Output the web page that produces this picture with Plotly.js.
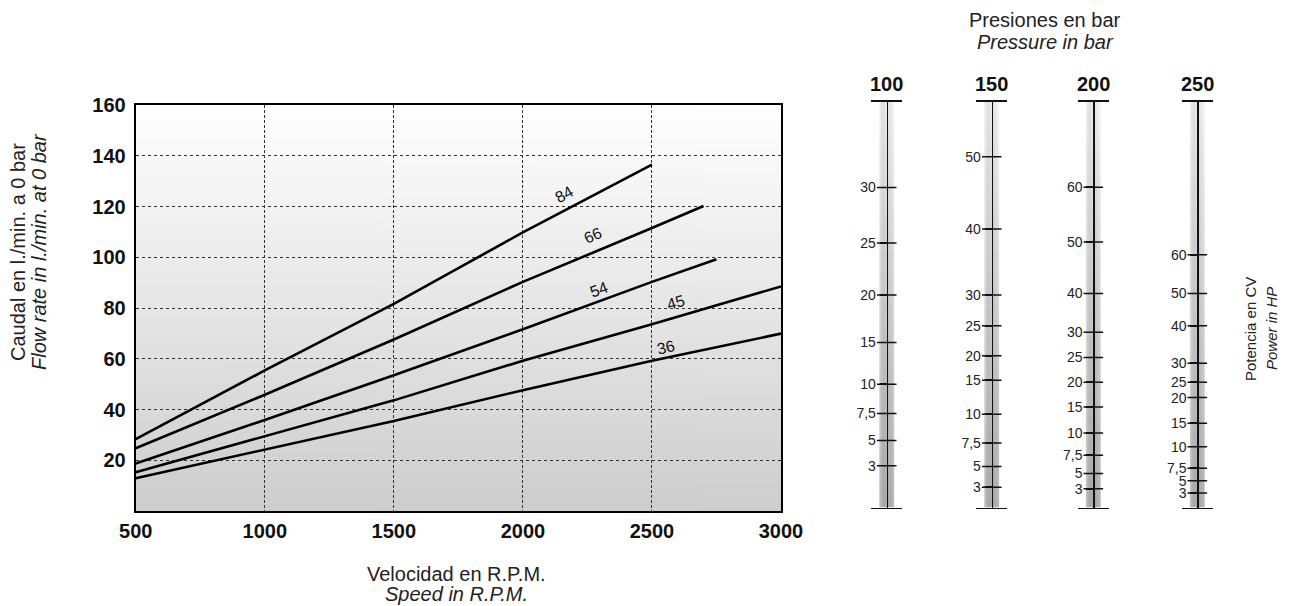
<!DOCTYPE html>
<html><head><meta charset="utf-8">
<script src="https://cdn.plot.ly/plotly-3.0.1.min.js"></script>
<style>html,body{margin:0;padding:0;background:#fff}#chart{width:1294px;height:606px}</style>
</head><body><div id="chart"></div>
<script>
// ---- main chart data ----
const speedTicks = [500, 1000, 1500, 2000, 2500, 3000];
const flowTicks = [20, 40, 60, 80, 100, 120, 140, 160];
const rpm84 = [500, 1000, 1500, 2000, 2500];
const flow84 = [28.3, 55.4, 81.6, 109.8, 136.5];
const rpm66 = [500, 1000, 1500, 2000, 2500, 2700];
const flow66 = [24.7, 45.8, 67.6, 90.3, 111.5, 120.2];
const rpm54 = [500, 1000, 1500, 2000, 2500, 2750];
const flow54 = [18.7, 35.9, 53.5, 71.6, 90.3, 99.2];
const rpm45 = [500, 1000, 1500, 2000, 2500, 3000];
const flow45 = [15.3, 29.6, 43.6, 59.2, 73.6, 88.5];
const rpm36 = [500, 1000, 1500, 2000, 2500, 3000];
const flow36 = [12.9, 24.2, 35.5, 47.6, 59.2, 69.9];
const curveNames = ['84', '66', '54', '45', '36'];
const labelRpm = [2159, 2270, 2296, 2593, 2554];
const labelFlow = [124.9, 108.5, 87.3, 82.0, 64.4];

// ---- nomogram data (power in CV/HP at each pressure; scale position 0=bottom,1=top) ----
const pressures = ['100', '150', '200', '250'];
const hp100 = ['30', '25', '20', '15', '10', '7,5', '5', '3'];
const pos100 = [0.789, 0.652, 0.524, 0.407, 0.304, 0.232, 0.165, 0.103];
const hp150 = ['50', '40', '30', '25', '20', '15', '10', '7,5', '5', '3'];
const pos150 = [0.865, 0.687, 0.524, 0.448, 0.374, 0.314, 0.230, 0.159, 0.101, 0.050];
const hp200 = ['60', '50', '40', '30', '25', '20', '15', '10', '7,5', '5', '3'];
const pos200 = [0.790, 0.655, 0.528, 0.432, 0.370, 0.309, 0.248, 0.184, 0.129, 0.084, 0.046];
const hp250 = ['60', '50', '40', '30', '25', '20', '15', '10', '7,5', '5', '3'];
const pos250 = [0.623, 0.528, 0.448, 0.356, 0.309, 0.271, 0.208, 0.150, 0.097, 0.066, 0.036];

// ---- helpers ----
const W = 1294, H = 606;
const fx = p => p / W;
const fy = p => 1 - p / H;
const FONT = 'Arial, "Liberation Sans", Helvetica, sans-serif';

function gradImg(stops, w, h, horiz) {
  const c = document.createElement('canvas');
  c.width = w; c.height = h;
  const g = c.getContext('2d');
  const gr = g.createLinearGradient(0, 0, 0, h);
  stops.forEach(s => gr.addColorStop(s[0], s[1]));
  g.fillStyle = gr; g.fillRect(0, 0, w, h);
  if (horiz) {
    const hg = g.createLinearGradient(0, 0, w, 0);
    hg.addColorStop(0, 'rgba(255,255,255,0.30)');
    hg.addColorStop(0.45, 'rgba(0,0,0,0.04)');
    hg.addColorStop(0.6, 'rgba(0,0,0,0.07)');
    hg.addColorStop(1, 'rgba(255,255,255,0.10)');
    g.fillStyle = hg; g.fillRect(0, 0, w, h);
  }
  return c.toDataURL();
}

const lineStyle = {color: '#000', width: 2.6};
const traces = [
  {x: rpm84, y: flow84, name: '84'},
  {x: rpm66, y: flow66, name: '66'},
  {x: rpm54, y: flow54, name: '54'},
  {x: rpm45, y: flow45, name: '45'},
  {x: rpm36, y: flow36, name: '36'}
].map(t => Object.assign(t, {type: 'scatter', mode: 'lines', line: lineStyle, xaxis: 'x', yaxis: 'y', hoverinfo: 'skip', showlegend: false}));

const labelAngles = [-29, -24, -20, -16, -13];
const annotations = curveNames.map((n, i) => ({
  x: labelRpm[i], y: labelFlow[i], xref: 'x', yref: 'y', text: n, showarrow: false,
  xanchor: 'center', yanchor: 'middle',
  textangle: labelAngles[i], font: {family: FONT, size: 16, color: '#111'}
}));

function paperText(px, py, text, extra) {
  return Object.assign({xref: 'paper', yref: 'paper', x: fx(px), y: fy(py), text: text, showarrow: false,
    xanchor: 'center', yanchor: 'middle', font: {family: FONT, size: 20, color: '#222'}}, extra || {});
}
const titleFont = {family: FONT, size: 20, color: '#222'};
const sideFont = {family: FONT, size: 15, color: '#222'};
// axis titles (one annotation per line for tight leading)
annotations.push(paperText(456, 574, 'Velocidad en R.P.M.', {font: titleFont}));
annotations.push(paperText(456, 594, '<i>Speed in R.P.M.</i>', {font: titleFont}));
annotations.push(paperText(18, 252, 'Caudal en l./min. a 0 bar', {textangle: -90, font: titleFont}));
annotations.push(paperText(39, 252, '<i>Flow rate in l./min. at 0 bar</i>', {textangle: -90, font: titleFont}));
annotations.push(paperText(1045, 20, 'Presiones en bar', {font: titleFont}));
annotations.push(paperText(1045, 42, '<i>Pressure in bar</i>', {font: titleFont}));
annotations.push(paperText(1250, 329, 'Potencia en CV', {textangle: -90, font: sideFont}));
annotations.push(paperText(1271, 329, '<i>Power in HP</i>', {textangle: -90, font: sideFont}));

const layout = {
  width: W, height: H,
  margin: {l: 0, r: 0, t: 0, b: 0},
  paper_bgcolor: '#fff', plot_bgcolor: 'rgba(0,0,0,0)',
  showlegend: false,
  xaxis: {
    domain: [fx(135.7), fx(781)], range: [500, 3000], anchor: 'y',
    tickvals: speedTicks, ticktext: speedTicks.map(String),
    tickfont: {family: FONT, size: 20, color: '#111', weight: 'bold'},
    showline: true, mirror: true, linecolor: '#000', linewidth: 2,
    showgrid: true, gridcolor: '#333', gridwidth: 1, griddash: '3px,2px',
    zeroline: false, ticks: '', ticklabelstandoff: 1, fixedrange: true
  },
  yaxis: {
    domain: [fy(511), fy(105)], range: [0, 160], anchor: 'x',
    tickvals: flowTicks, ticktext: flowTicks.map(String),
    tickfont: {family: FONT, size: 20, color: '#111', weight: 'bold'},
    showline: true, mirror: true, linecolor: '#000', linewidth: 2,
    showgrid: true, gridcolor: '#333', gridwidth: 1, griddash: 'dot',
    zeroline: false, ticks: '', ticklabelstandoff: 4, fixedrange: true
  },
  annotations: annotations,
  images: [{
    source: gradImg([[0, '#ffffff'], [1, '#cdcdcd']], 4, 256, false),
    xref: 'x', yref: 'y', x: 500, y: 160, sizex: 2500, sizey: 160,
    xanchor: 'left', yanchor: 'top', sizing: 'stretch', layer: 'below'
  }]
};

// nomogram bars
const barCenters = [886.7, 991.7, 1093.3, 1197.3];
const barLabels = [hp100, hp150, hp200, hp250];
const barPos = [pos100, pos150, pos200, pos250];
const stripImg = gradImg([[0, '#f6f6f6'], [1, '#b3b3b3']], 16, 256, true);
barCenters.forEach((c, k) => {
  const n = k + 2;
  layout['xaxis' + n] = {
    domain: [fx(c - 15.5), fx(c + 15.5)], range: [-1, 1], anchor: 'y' + n,
    showline: true, mirror: true, linecolor: '#111', linewidth: 1.6,
    showgrid: false, zeroline: false, showticklabels: false, ticks: '', fixedrange: true
  };
  layout['yaxis' + n] = {
    domain: [fy(507.5), fy(102)], range: [0, 1], anchor: 'free', position: fx(c),
    showline: true, linecolor: '#111', linewidth: 1.6,
    showgrid: false, zeroline: false, ticks: 'outside', ticklen: 7, tickwidth: 1.5, tickcolor: '#111',
    tickvals: barPos[k], ticktext: barLabels[k],
    tickfont: {family: FONT, size: 14, color: '#222'}, ticklabelstandoff: 1, fixedrange: true
  };
  layout.images.push({
    source: stripImg, xref: 'x' + n, yref: 'y' + n, x: -0.48, y: 1, sizex: 0.96, sizey: 1,
    xanchor: 'left', yanchor: 'top', sizing: 'stretch', layer: 'below'
  });
  traces.push({
    type: 'scatter', mode: 'markers', xaxis: 'x' + n, yaxis: 'y' + n,
    x: barPos[k].map(() => 0), y: barPos[k],
    marker: {symbol: 'line-ew', size: 14, line: {color: '#111', width: 1.5}},
    hoverinfo: 'skip', showlegend: false
  });
  annotations.push(paperText(c, 84, pressures[k], {font: {family: FONT, size: 20, color: '#111', weight: 'bold'}}));
});

Plotly.newPlot('chart', traces, layout, {staticPlot: true, displayModeBar: false});
</script>
</body></html>
